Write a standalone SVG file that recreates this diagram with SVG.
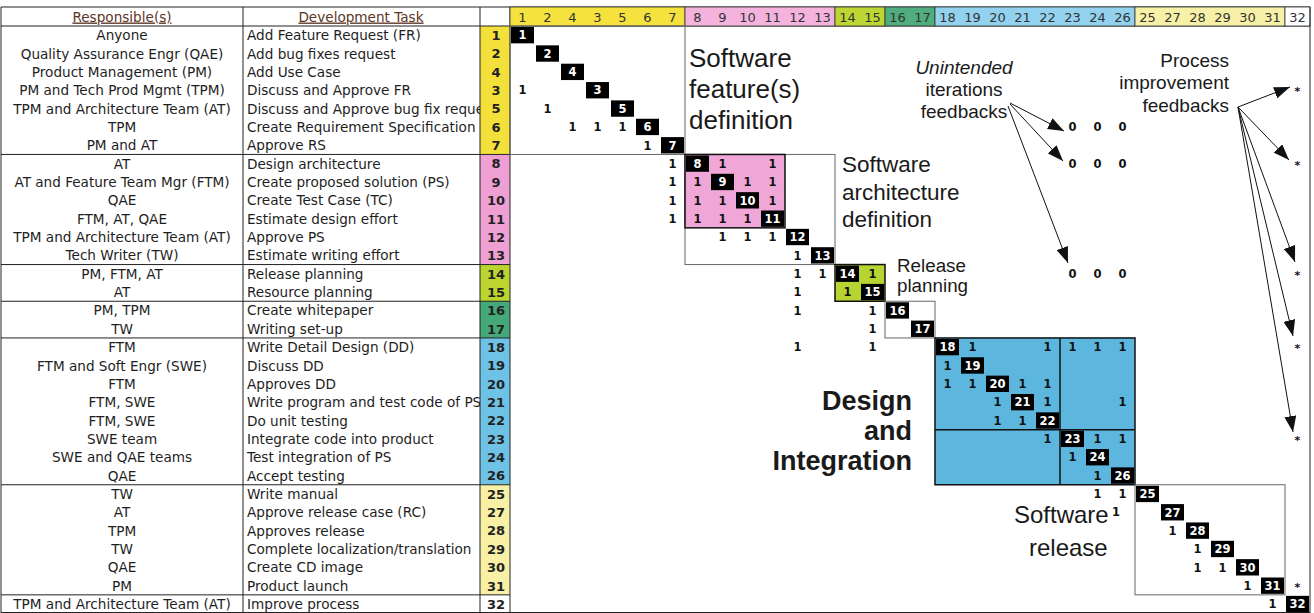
<svg xmlns="http://www.w3.org/2000/svg" width="1314" height="613" viewBox="0 0 1314 613">
<defs>
<style>
.t{font-family:"DejaVu Sans",Verdana,sans-serif;font-size:13.6px;fill:#1e1e1e}
.c{text-anchor:middle}
.hd{fill:#5b3526;text-decoration:underline}
.num{font-family:"DejaVu Sans",Verdana,sans-serif;font-size:13px;font-weight:bold;text-anchor:middle;fill:#222}
.hn{font-family:"DejaVu Sans",Verdana,sans-serif;font-size:13px;text-anchor:middle;fill:#333}
.o{font-family:"DejaVu Sans",Verdana,sans-serif;font-size:11.5px;font-weight:bold;text-anchor:middle;fill:#111}
.dt{font-family:"DejaVu Sans",Verdana,sans-serif;font-size:11.5px;font-weight:bold;text-anchor:middle;fill:#fff}
.st{font-family:"DejaVu Sans",Verdana,sans-serif;font-size:11px;font-weight:bold;text-anchor:middle;fill:#111}
.big{font-family:"Liberation Sans",Arial,sans-serif;fill:#1a1a1a}
.line{stroke:#222;stroke-width:1;fill:none}
.box{stroke:#666;stroke-width:1;fill:none}
.bk{stroke:#111;stroke-width:1.5}
.arr{stroke:#111;stroke-width:1;fill:none;marker-end:url(#ah)}
</style>
<marker id="ah" viewBox="0 0 16 12" refX="16" refY="6" markerWidth="16" markerHeight="12" markerUnits="userSpaceOnUse" orient="auto"><path d="M0,0 L16,6 L0,12 z" fill="#111"/></marker>
<clipPath id="taskclip"><rect x="243" y="0" width="237" height="613"/></clipPath>
</defs>
<rect x="0" y="0" width="1314" height="613" fill="#fff"/>

<g id="table">
<rect x="480" y="26" width="30" height="128.45" fill="#F4E03A"/>
<rect x="480" y="154.45" width="30" height="110.1" fill="#EE9FD3"/>
<rect x="480" y="264.55" width="30" height="36.7" fill="#BBD42F"/>
<rect x="480" y="301.25" width="30" height="36.7" fill="#45A878"/>
<rect x="480" y="337.95" width="30" height="146.8" fill="#6DC2E6"/>
<rect x="480" y="484.75" width="30" height="110.1" fill="#F7F0A5"/>
<g class="line">
<path d="M1,7 H1310 M1,26 H1310 M1,7 V613 M243,7 V613 M480,7 V613 M510,7 V613 M1,612.5 H1310"/>
<path d="M1,154.45 H510 M1,264.55 H510 M1,301.25 H510 M1,337.95 H510 M1,484.75 H510 M1,594.85 H510"/>
</g>
<text class="t c hd" x="122" y="21.5">Responsible(s)</text>
<text class="t c hd" x="361" y="21.5">Development Task</text>
<g class="t c">
<text x="122" y="40.2">Anyone</text>
<text x="122" y="58.5">Quality Assurance Engr (QAE)</text>
<text x="122" y="76.9">Product Management (PM)</text>
<text x="122" y="95.2">PM and Tech Prod Mgmt (TPM)</text>
<text x="122" y="113.6">TPM and Architecture Team (AT)</text>
<text x="122" y="131.9">TPM</text>
<text x="122" y="150.3">PM and AT</text>
<text x="122" y="168.6">AT</text>
<text x="122" y="187">AT and Feature Team Mgr (FTM)</text>
<text x="122" y="205.3">QAE</text>
<text x="122" y="223.7">FTM, AT, QAE</text>
<text x="122" y="242">TPM and Architecture Team (AT)</text>
<text x="122" y="260.4">Tech Writer (TW)</text>
<text x="122" y="278.7">PM, FTM, AT</text>
<text x="122" y="297.1">AT</text>
<text x="122" y="315.4">PM, TPM</text>
<text x="122" y="333.8">TW</text>
<text x="122" y="352.1">FTM</text>
<text x="122" y="370.5">FTM and Soft Engr (SWE)</text>
<text x="122" y="388.8">FTM</text>
<text x="122" y="407.2">FTM, SWE</text>
<text x="122" y="425.5">FTM, SWE</text>
<text x="122" y="443.9">SWE team</text>
<text x="122" y="462.2">SWE and QAE teams</text>
<text x="122" y="480.6">QAE</text>
<text x="122" y="498.9">TW</text>
<text x="122" y="517.3">AT</text>
<text x="122" y="535.6">TPM</text>
<text x="122" y="554">TW</text>
<text x="122" y="572.3">QAE</text>
<text x="122" y="590.7">PM</text>
<text x="122" y="609">TPM and Architecture Team (AT)</text>
</g>
<g class="t" clip-path="url(#taskclip)">
<text x="247" y="40.2">Add Feature Request (FR)</text>
<text x="247" y="58.5">Add bug fixes request</text>
<text x="247" y="76.9">Add Use Case</text>
<text x="247" y="95.2">Discuss and Approve FR</text>
<text x="247" y="113.6">Discuss and Approve bug fix reque</text>
<text x="247" y="131.9">Create Requirement Specification</text>
<text x="247" y="150.3">Approve RS</text>
<text x="247" y="168.6">Design architecture</text>
<text x="247" y="187">Create proposed solution (PS)</text>
<text x="247" y="205.3">Create Test Case (TC)</text>
<text x="247" y="223.7">Estimate design effort</text>
<text x="247" y="242">Approve PS</text>
<text x="247" y="260.4">Estimate writing effort</text>
<text x="247" y="278.7">Release planning</text>
<text x="247" y="297.1">Resource planning</text>
<text x="247" y="315.4">Create whitepaper</text>
<text x="247" y="333.8">Writing set-up</text>
<text x="247" y="352.1">Write Detail Design (DD)</text>
<text x="247" y="370.5">Discuss DD</text>
<text x="247" y="388.8">Approves DD</text>
<text x="247" y="407.2">Write program and test code of PS</text>
<text x="247" y="425.5">Do unit testing</text>
<text x="247" y="443.9">Integrate code into product</text>
<text x="247" y="462.2">Test integration of PS</text>
<text x="247" y="480.6">Accept testing</text>
<text x="247" y="498.9">Write manual</text>
<text x="247" y="517.3">Approve release case (RC)</text>
<text x="247" y="535.6">Approves release</text>
<text x="247" y="554">Complete localization/translation</text>
<text x="247" y="572.3">Create CD image</text>
<text x="247" y="590.7">Product launch</text>
<text x="247" y="609">Improve process</text>
</g>
<g class="num">
<text x="496" y="40">1</text><text x="496" y="58.3">2</text><text x="496" y="76.7">4</text><text x="496" y="95">3</text>
<text x="496" y="113.4">5</text><text x="496" y="131.7">6</text><text x="496" y="150.1">7</text><text x="496" y="168.4">8</text>
<text x="496" y="186.8">9</text><text x="496" y="205.1">10</text><text x="496" y="223.5">11</text><text x="496" y="241.8">12</text>
<text x="496" y="260.2">13</text><text x="496" y="278.5">14</text><text x="496" y="296.9">15</text><text x="496" y="315.2">16</text>
<text x="496" y="333.6">17</text><text x="496" y="351.9">18</text><text x="496" y="370.3">19</text><text x="496" y="388.6">20</text>
<text x="496" y="407">21</text><text x="496" y="425.3">22</text><text x="496" y="443.7">23</text><text x="496" y="462">24</text>
<text x="496" y="480.4">26</text><text x="496" y="498.7">25</text><text x="496" y="517.1">27</text><text x="496" y="535.4">28</text>
<text x="496" y="553.8">29</text><text x="496" y="572.1">30</text><text x="496" y="590.5">31</text><text x="496" y="608.8">32</text>
</g>
</g>

<g id="matrix-header">
<g stroke="#333" stroke-width="0.8">
<rect x="510" y="7" width="175" height="19" fill="#F6E23E"/>
<rect x="685" y="7" width="150" height="19" fill="#F3B3DD"/>
<rect x="835" y="7" width="50" height="19" fill="#BDD634"/>
<rect x="885" y="7" width="50" height="19" fill="#50AD7D"/>
<rect x="935" y="7" width="200" height="19" fill="#92D2EE"/>
<rect x="1135" y="7" width="150" height="19" fill="#F7F1A8"/>
<rect x="1285" y="7" width="25" height="19" fill="#fff"/>
</g>
<g class="hn">
<text x="522.5" y="21.5">1</text><text x="547.5" y="21.5">2</text><text x="572.5" y="21.5">4</text><text x="597.5" y="21.5">3</text>
<text x="622.5" y="21.5">5</text><text x="647.5" y="21.5">6</text><text x="672.5" y="21.5">7</text><text x="697.5" y="21.5">8</text>
<text x="722.5" y="21.5">9</text><text x="747.5" y="21.5">10</text><text x="772.5" y="21.5">11</text><text x="797.5" y="21.5">12</text>
<text x="822.5" y="21.5">13</text><text x="847.5" y="21.5">14</text><text x="872.5" y="21.5">15</text><text x="897.5" y="21.5">16</text>
<text x="922.5" y="21.5">17</text><text x="947.5" y="21.5">18</text><text x="972.5" y="21.5">19</text><text x="997.5" y="21.5">20</text>
<text x="1022.5" y="21.5">21</text><text x="1047.5" y="21.5">22</text><text x="1072.5" y="21.5">23</text><text x="1097.5" y="21.5">24</text>
<text x="1122.5" y="21.5">26</text><text x="1147.5" y="21.5">25</text><text x="1172.5" y="21.5">27</text><text x="1197.5" y="21.5">28</text>
<text x="1222.5" y="21.5">29</text><text x="1247.5" y="21.5">30</text><text x="1272.5" y="21.5">31</text><text x="1297.5" y="21.5">32</text>
</g>
</g>

<g id="matrix-blocks">
<rect class="box" x="510" y="26" width="175" height="128.45"/>
<rect class="box" x="685" y="154.45" width="150" height="110.1"/>
<rect class="bk" x="685" y="154.45" width="100" height="73.4" fill="#F0A6D6"/>
<rect class="bk" x="835" y="264.55" width="50" height="36.7" fill="#B7D433"/>
<rect class="box" x="885" y="301.25" width="50" height="36.7"/>
<rect class="bk" x="935" y="337.95" width="200" height="146.8" fill="#5DB6DE"/>
<path class="bk" d="M1060,337.95 V484.75 M935,429.7 H1135" fill="none"/>
<rect class="box" x="1135" y="484.75" width="150" height="110.1"/>
<path class="line" d="M1310,7 V613"/>
</g>

<g id="diagonal">
<g fill="#000">
<rect x="511" y="27" width="23" height="16.35"/><rect x="536" y="45.35" width="23" height="16.35"/>
<rect x="561" y="63.7" width="23" height="16.35"/><rect x="586" y="82.05" width="23" height="16.35"/>
<rect x="611" y="100.4" width="23" height="16.35"/><rect x="636" y="118.75" width="23" height="16.35"/>
<rect x="661" y="137.1" width="23" height="16.35"/><rect x="686" y="155.45" width="23" height="16.35"/>
<rect x="711" y="173.8" width="23" height="16.35"/><rect x="736" y="192.15" width="23" height="16.35"/>
<rect x="761" y="210.5" width="23" height="16.35"/><rect x="786" y="228.85" width="23" height="16.35"/>
<rect x="811" y="247.2" width="23" height="16.35"/><rect x="836" y="265.55" width="23" height="16.35"/>
<rect x="861" y="283.9" width="23" height="16.35"/><rect x="886" y="302.25" width="23" height="16.35"/>
<rect x="911" y="320.6" width="23" height="16.35"/><rect x="936" y="338.95" width="23" height="16.35"/>
<rect x="961" y="357.3" width="23" height="16.35"/><rect x="986" y="375.65" width="23" height="16.35"/>
<rect x="1011" y="394" width="23" height="16.35"/><rect x="1036" y="412.35" width="23" height="16.35"/>
<rect x="1061" y="430.7" width="23" height="16.35"/><rect x="1086" y="449.05" width="23" height="16.35"/>
<rect x="1111" y="467.4" width="23" height="16.35"/><rect x="1136" y="485.75" width="23" height="16.35"/>
<rect x="1161" y="504.1" width="23" height="16.35"/><rect x="1186" y="522.45" width="23" height="16.35"/>
<rect x="1211" y="540.8" width="23" height="16.35"/><rect x="1236" y="559.15" width="23" height="16.35"/>
<rect x="1261" y="577.5" width="23" height="16.35"/><rect x="1286" y="595.85" width="23" height="16.35"/>
</g>
<g class="dt">
<text x="522.5" y="39.4">1</text><text x="547.5" y="57.7">2</text><text x="572.5" y="76.1">4</text><text x="597.5" y="94.4">3</text>
<text x="622.5" y="112.8">5</text><text x="647.5" y="131.1">6</text><text x="672.5" y="149.5">7</text><text x="697.5" y="167.8">8</text>
<text x="722.5" y="186.2">9</text><text x="747.5" y="204.5">10</text><text x="772.5" y="222.9">11</text><text x="797.5" y="241.2">12</text>
<text x="822.5" y="259.6">13</text><text x="847.5" y="277.9">14</text><text x="872.5" y="296.3">15</text><text x="897.5" y="314.6">16</text>
<text x="922.5" y="333">17</text><text x="947.5" y="351.3">18</text><text x="972.5" y="369.7">19</text><text x="997.5" y="388">20</text>
<text x="1022.5" y="406.4">21</text><text x="1047.5" y="424.7">22</text><text x="1072.5" y="443.1">23</text><text x="1097.5" y="461.4">24</text>
<text x="1122.5" y="479.8">26</text><text x="1147.5" y="498.1">25</text><text x="1172.5" y="516.5">27</text><text x="1197.5" y="534.8">28</text>
<text x="1222.5" y="553.2">29</text><text x="1247.5" y="571.5">30</text><text x="1272.5" y="589.9">31</text><text x="1297.5" y="608.2">32</text>
</g>
</g>

<g id="marks" class="o">
<text x="522.5" y="94.4">1</text>
<text x="547.5" y="112.8">1</text>
<text x="572.5" y="131.1">1</text><text x="597.5" y="131.1">1</text><text x="622.5" y="131.1">1</text>
<text x="647.5" y="149.5">1</text>
<text x="672.5" y="167.8">1</text><text x="722.5" y="167.8">1</text><text x="772.5" y="167.8">1</text>
<text x="672.5" y="186.2">1</text><text x="697.5" y="186.2">1</text><text x="747.5" y="186.2">1</text><text x="772.5" y="186.2">1</text>
<text x="672.5" y="204.5">1</text><text x="697.5" y="204.5">1</text><text x="722.5" y="204.5">1</text><text x="772.5" y="204.5">1</text>
<text x="672.5" y="222.9">1</text><text x="697.5" y="222.9">1</text><text x="722.5" y="222.9">1</text><text x="747.5" y="222.9">1</text>
<text x="722.5" y="241.2">1</text><text x="747.5" y="241.2">1</text><text x="772.5" y="241.2">1</text>
<text x="797.5" y="259.6">1</text>
<text x="797.5" y="277.9">1</text><text x="822.5" y="277.9">1</text><text x="872.5" y="277.9">1</text>
<text x="797.5" y="296.3">1</text><text x="847.5" y="296.3">1</text>
<text x="797.5" y="314.6">1</text><text x="872.5" y="314.6">1</text>
<text x="872.5" y="333">1</text>
<text x="797.5" y="351.3">1</text><text x="872.5" y="351.3">1</text><text x="972.5" y="351.3">1</text><text x="1047.5" y="351.3">1</text><text x="1072.5" y="351.3">1</text><text x="1097.5" y="351.3">1</text><text x="1122.5" y="351.3">1</text>
<text x="947.5" y="369.7">1</text>
<text x="947.5" y="388">1</text><text x="972.5" y="388">1</text><text x="1022.5" y="388">1</text><text x="1047.5" y="388">1</text>
<text x="997.5" y="406.4">1</text><text x="1047.5" y="406.4">1</text><text x="1122.5" y="406.4">1</text>
<text x="997.5" y="424.7">1</text><text x="1022.5" y="424.7">1</text>
<text x="1047.5" y="443.1">1</text><text x="1097.5" y="443.1">1</text><text x="1122.5" y="443.1">1</text>
<text x="1072.5" y="461.4">1</text>
<text x="1097.5" y="479.8">1</text>
<text x="1097.5" y="498.1">1</text><text x="1122.5" y="498.1">1</text>
<text x="1116" y="516">1</text>
<text x="1172.5" y="534.8">1</text>
<text x="1197.5" y="553.2">1</text>
<text x="1197.5" y="571.5">1</text><text x="1222.5" y="571.5">1</text>
<text x="1247.5" y="589.9">1</text>
<text x="1272.5" y="608.2">1</text>
<text x="1072.5" y="131.1">0</text><text x="1097.5" y="131.1">0</text><text x="1122.5" y="131.1">0</text>
<text x="1072.5" y="167.8">0</text><text x="1097.5" y="167.8">0</text><text x="1122.5" y="167.8">0</text>
<text x="1072.5" y="277.9">0</text><text x="1097.5" y="277.9">0</text><text x="1122.5" y="277.9">0</text>
</g>
<g id="asterisks" class="st">
<text x="1297.5" y="95">*</text>
<text x="1297.5" y="168.5">*</text>
<text x="1297.5" y="278.5">*</text>
<text x="1297.5" y="352">*</text>
<text x="1297.5" y="444">*</text>
<text x="1297.5" y="590.5">*</text>
</g>

<g id="label-feature" class="big" font-size="26">
<text x="689" y="67">Software</text>
<text x="689" y="98">feature(s)</text>
<text x="689" y="129">definition</text>
</g>
<g id="label-architecture" class="big" font-size="22.5">
<text x="842" y="172">Software</text>
<text x="842" y="200">architecture</text>
<text x="842" y="227">definition</text>
</g>
<g id="label-release-planning" class="big" font-size="18.8">
<text x="897" y="271.5">Release</text>
<text x="897" y="292">planning</text>
</g>
<g id="label-design" class="big" font-size="27" font-weight="bold" text-anchor="end">
<text x="912" y="410">Design</text>
<text x="912" y="440">and</text>
<text x="912" y="470">Integration</text>
</g>
<g id="label-software-release" class="big" font-size="24">
<text x="1014" y="523">Software</text>
<text x="1029" y="556">release</text>
</g>
<g id="label-unintended" class="big" font-size="19" text-anchor="middle">
<text x="964" y="74" font-style="italic">Unintended</text>
<text x="964" y="96">iterations</text>
<text x="964" y="118">feedbacks</text>
</g>
<g id="label-process" class="big" font-size="19" text-anchor="end">
<text x="1229" y="67">Process</text>
<text x="1229" y="89">improvement</text>
<text x="1229" y="112">feedbacks</text>
</g>

<g id="connectors">
<path class="arr" d="M1010,103 L1064,131"/>
<path class="arr" d="M1010,104 L1063,161"/>
<path class="arr" d="M1008,106 L1068,263"/>
<path class="arr" d="M1238,107 L1290,87"/>
<path class="arr" d="M1238,107 L1289,160"/>
<path class="arr" d="M1238,107 L1295,262"/>
<path class="arr" d="M1238,107 L1293,336"/>
<path class="arr" d="M1238,107 L1293,432"/>
</g>
</svg>
